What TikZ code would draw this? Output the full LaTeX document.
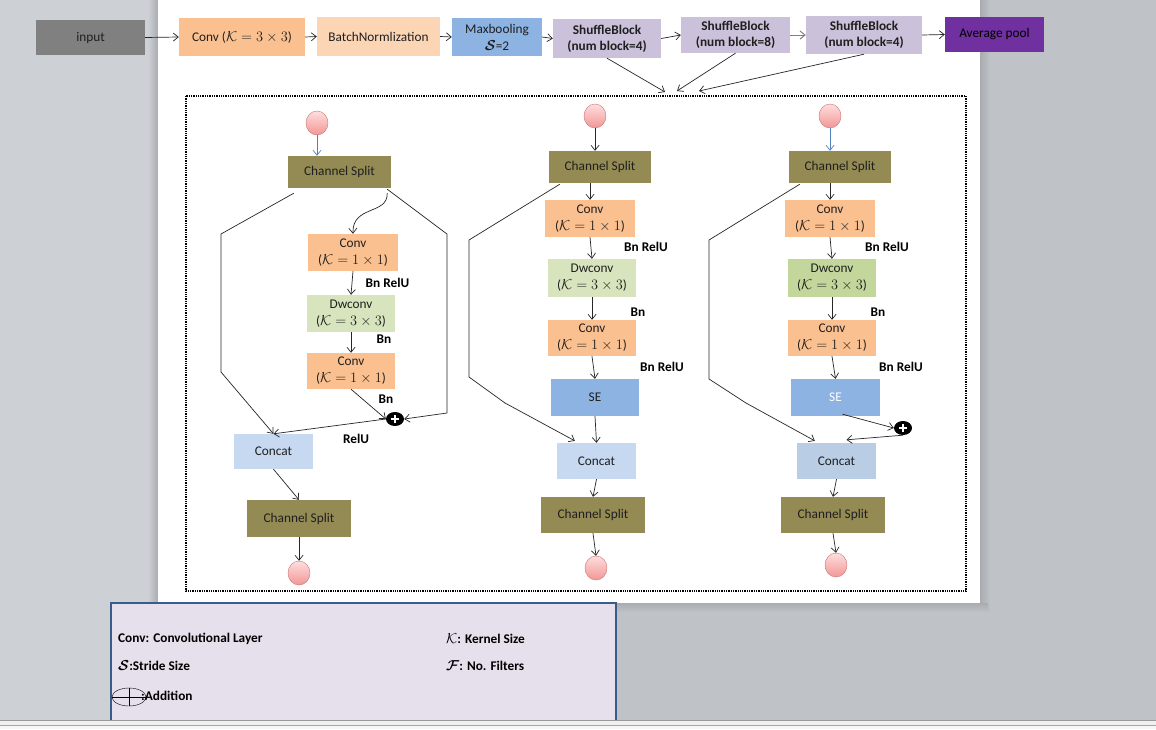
\documentclass[tikz,border=0pt]{standalone}
\usepackage{bm}
\usepackage{fontspec}
\setmainfont{Carlito}
\usetikzlibrary{shapes.geometric, arrows.meta}

\definecolor{pageGray}{RGB}{191,194,199}
\definecolor{sideGray}{RGB}{205,208,212}
\definecolor{edgeGray}{RGB}{168,171,176}
\definecolor{inputGray}{RGB}{128,128,128}
\definecolor{convOrange}{RGB}{250,192,144}
\definecolor{bnPeach}{RGB}{252,213,181}
\definecolor{poolBlue}{RGB}{141,179,226}
\definecolor{shuffleLilac}{RGB}{204,193,218}
\definecolor{avgPurple}{RGB}{112,48,160}
\definecolor{splitOlive}{RGB}{148,138,84}
\definecolor{dwGreen}{RGB}{215,228,189}
\definecolor{dwGreenDark}{RGB}{195,214,155}
\definecolor{concatBlue}{RGB}{198,217,241}
\definecolor{concatBlueDark}{RGB}{185,205,229}
\definecolor{legendLilac}{RGB}{230,224,236}
\definecolor{legendEdge}{RGB}{56,93,138}
\definecolor{arrowBlue}{RGB}{79,129,189}
\definecolor{ballTop}{RGB}{255,222,222}
\definecolor{ballBottom}{RGB}{242,150,150}
\definecolor{ballEdge}{RGB}{205,115,115}

\begin{document}
\begin{tikzpicture}[x=1pt, y=-1pt,
	font=\fontsize{13.3}{17}\selectfont,
	>={Straight Barb[length=5pt,width=8pt]},
	box/.style={rectangle, inner sep=0pt, align=center, text=black!88},
	bold/.style={box, font=\bfseries\fontsize{13.3}{16}\selectfont},
	lab/.style={inner sep=0pt, font=\bfseries\fontsize{13.3}{16}\selectfont},
	ball/.style={ellipse, inner sep=0pt, minimum width=22pt, minimum height=24pt,
		draw=ballEdge, top color=ballTop, bottom color=ballBottom},
	addnode/.style={ellipse, fill=black, inner sep=0pt, minimum width=18pt, minimum height=14pt,
		path picture={\draw[white, line width=1.4pt]
			([xshift=-4pt]path picture bounding box.center) -- ([xshift=4pt]path picture bounding box.center)
			([yshift=-4pt]path picture bounding box.center) -- ([yshift=4pt]path picture bounding box.center);}},
	flow/.style={->, line width=0.7pt, black!85},
	line/.style={line width=0.7pt, black!85}]

	\useasboundingbox (0,0) rectangle (1156,729);

	% window background and page
	\fill[pageGray] (0,0) rectangle (1156,729);
	\fill[sideGray] (0,0) rectangle (150,720);
	\shade[left color=sideGray, right color=edgeGray] (148,0) rectangle (158,720);
	\shade[left color=edgeGray, right color=pageGray] (980,0) rectangle (990,611);
	\shade[top color=edgeGray, bottom color=pageGray] (158,603) rectangle (988,612);
	\fill[white] (158,0) rectangle (980,603);

	% top row
	\node[box, fill=inputGray, minimum width=109pt, minimum height=35pt] (input) at (90.5,37.5) {input};
	\node[box, fill=convOrange, minimum width=126pt, minimum height=38pt] (conv3) at (242,37) {Conv ($\mathcal{K}=3\times3$)};
	\node[box, fill=bnPeach, minimum width=123pt, minimum height=39pt] (bn) at (378.5,36.5) {BatchNormlization};
	\node[box, fill=poolBlue, minimum width=90pt, minimum height=38pt] (maxp) at (497,37) {Maxbooling\\$\bm{\mathcal{S}}$=2};
	\node[bold, fill=shuffleLilac, minimum width=108pt, minimum height=39pt] (sbA) at (607,38.5) {ShuffleBlock\\(num block=4)};
	\node[bold, fill=shuffleLilac, minimum width=109pt, minimum height=36pt] (sbB) at (735.5,35) {ShuffleBlock\\(num block=8)};
	\node[bold, fill=shuffleLilac, minimum width=116pt, minimum height=38pt] (sbC) at (864,35) {ShuffleBlock\\(num block=4)};
	\node[box, fill=avgPurple, text=black, minimum width=99pt, minimum height=35pt] (avg) at (994.5,34.5) {Average pool};

	\draw[flow] (input.east) -- (conv3.west);
	\draw[flow] (conv3.east) -- (bn.west);
	\draw[flow] (bn.east) -- (maxp.west);
	\draw[flow] (maxp.east) -- (sbA.west);
	\draw[flow] (sbA.east) -- (sbB.west);
	\draw[flow, gray, line width=1pt] (sbB.east) -- (sbC.west);
	\draw[flow] (sbC.east) -- (avg.west);

	\coordinate (hubA) at (665,92);
	\coordinate (hubB) at (677,91);
	\coordinate (hubC) at (699,91);
	\draw[flow] (sbA.south) -- (hubA);
	\draw[flow] (sbB.south) -- (hubB);
	\draw[flow] (sbC.south) -- (hubC);

	\draw[densely dotted, line width=1.3pt] (186,96) rectangle (966,591);

	% block 1
	\node[ball] (ballA1) at (317,123) {};
	\node[box, fill=splitOlive, minimum width=103pt, minimum height=32pt] (splitA1) at (339.5,172) {Channel Split};
	\node[box, fill=convOrange, minimum width=90pt, minimum height=37pt] (convA1) at (353,252.5) {Conv\\($\mathcal{K}=1\times1$)};
	\node[box, fill=dwGreen, minimum width=88pt, minimum height=37pt] (dwA) at (351,313.5) {Dwconv\\($\mathcal{K}=3\times3$)};
	\node[box, fill=convOrange, minimum width=88pt, minimum height=36pt] (convA2) at (351,371) {Conv\\($\mathcal{K}=1\times1$)};
	\node[addnode] (addA) at (395,419) {};
	\node[box, fill=concatBlue, minimum width=79pt, minimum height=35pt] (catA) at (273.5,451.5) {Concat};
	\node[box, fill=splitOlive, minimum width=104pt, minimum height=37pt] (splitA2) at (299,518.5) {Channel Split};
	\node[ball] (ballA2) at (299,573) {};

	\node[lab] (lblA1) at (387.5,283) {Bn RelU};
	\node[lab] (lblA2) at (384,339) {Bn};
	\node[lab] (lblA3) at (386,399) {Bn};
	\node[lab] (lblA4) at (356,439) {RelU};

	\draw[flow, arrowBlue] (ballA1.south) -- (ballA1.south |- splitA1.north);
	\draw[line] ([shift={(6,5)}]splitA1.south west) -- (221,234) -- (221,372);
	\draw[flow] (221,372) -- (catA.north);
	\draw[line] ([shift={(-4,1)}]splitA1.south east) -- (447,234) -- (447,413);
	\draw[flow] (447,413) -- (addA.east);
	\draw[flow] ([shift={(-4,5)}]splitA1.south east) .. controls (388,215) and (352,205) .. (convA1.north);
	\draw[flow] (convA1.south) -- (dwA.north);
	\draw[flow] (dwA.south) -- (convA2.north);
	\draw[flow] (convA2.south) -- (addA.west);
	\draw[flow] (addA.west) -- (catA.north);
	\draw[flow] (catA.south) -- (splitA2.north);
	\draw[flow] (splitA2.south) -- (ballA2.north);

	% block 2
	\node[ball] (ballB1) at (595,116) {};
	\node[box, fill=splitOlive, minimum width=102pt, minimum height=32pt] (splitB1) at (600,167) {Channel Split};
	\node[box, fill=convOrange, minimum width=90pt, minimum height=37pt] (convB1) at (590,218.5) {Conv\\($\mathcal{K}=1\times1$)};
	\node[box, fill=dwGreen, minimum width=88pt, minimum height=38pt] (dwB) at (592,278) {Dwconv\\($\mathcal{K}=3\times3$)};
	\node[box, fill=convOrange, minimum width=88pt, minimum height=36pt] (convB2) at (592,338) {Conv\\($\mathcal{K}=1\times1$)};
	\node[box, fill=poolBlue, minimum width=88pt, minimum height=37pt] (seB) at (595,397.5) {SE};
	\node[box, fill=concatBlue, minimum width=79pt, minimum height=36pt] (catB) at (596.5,461) {Concat};
	\node[box, fill=splitOlive, minimum width=104pt, minimum height=36pt] (splitB2) at (593,515) {Channel Split};
	\node[ball] (ballB2) at (596,568) {};

	\node[lab] (lblB1) at (646,247) {Bn RelU};
	\node[lab] (lblB2) at (638,312) {Bn};
	\node[lab] (lblB3) at (662,367) {Bn RelU};

	\draw[flow] (ballB1.south) -- (ballB1.south |- splitB1.north);
	\draw[flow] (convB1.north |- splitB1.south) -- (convB1.north);
	\draw[flow] (convB1.south) -- (dwB.north);
	\draw[flow] (dwB.south) -- (convB2.north);
	\draw[flow] (convB2.south) -- (seB.north);
	\draw[flow] (seB.south) -- (catB.north);
	\draw[line] ([shift={(11,1)}]splitB1.south west) -- (469,240) -- (469,377) -- (505,403);
	\draw[flow] (505,403) -- ([shift={(18,-2)}]catB.north west);
	\draw[flow] (catB.south) -- (splitB2.north);
	\draw[flow] (splitB2.south) -- (ballB2.north);

	% block 3
	\node[ball] (ballC1) at (830,116) {};
	\node[box, fill=splitOlive, minimum width=102pt, minimum height=32pt] (splitC1) at (840,167) {Channel Split};
	\node[box, fill=convOrange, minimum width=90pt, minimum height=37pt] (convC1) at (830,218.5) {Conv\\($\mathcal{K}=1\times1$)};
	\node[box, fill=dwGreenDark, minimum width=88pt, minimum height=38pt] (dwC) at (832,278) {Dwconv\\($\mathcal{K}=3\times3$)};
	\node[box, fill=convOrange, minimum width=88pt, minimum height=36pt] (convC2) at (832,338) {Conv\\($\mathcal{K}=1\times1$)};
	\node[box, fill=poolBlue, text=white, minimum width=89pt, minimum height=37pt] (seC) at (835.5,397.5) {SE};
	\node[addnode] (addC) at (903,428) {};
	\node[box, fill=concatBlueDark, minimum width=79pt, minimum height=36pt] (catC) at (836.5,461) {Concat};
	\node[box, fill=splitOlive, minimum width=104pt, minimum height=36pt] (splitC2) at (833,515) {Channel Split};
	\node[ball] (ballC2) at (836,565) {};

	\node[lab] (lblC1) at (887,247) {Bn RelU};
	\node[lab] (lblC2) at (878,312) {Bn};
	\node[lab] (lblC3) at (901,367) {Bn RelU};

	\draw[flow, arrowBlue] (ballC1.south) -- (ballC1.south |- splitC1.north);
	\draw[flow] (convC1.north |- splitC1.south) -- (convC1.north);
	\draw[flow] (convC1.south) -- (dwC.north);
	\draw[flow] (dwC.south) -- (convC2.north);
	\draw[flow] (convC2.south) -- (seC.north);
	\draw[flow] ([shift={(7,-2)}]seC.south) -- (addC.west);
	\draw[flow] (addC.south) -- ([shift={(10,-3)}]catC.north);
	\draw[line] ([shift={(11,1)}]splitC1.south west) -- (709,240) -- (709,379) -- (746,403);
	\draw[flow] (746,403) -- ([shift={(18,-2)}]catC.north west);
	\draw[flow] (catC.south) -- (splitC2.north);
	\draw[flow] (splitC2.south) -- (ballC2.north);

	% legend
	\draw[legendEdge, fill=legendLilac, line width=1.5pt] (111,603) rectangle (616,724);
	\node[lab, anchor=west] (keyConv) at (118,639) {Conv: Convolutional Layer};
	\node[lab, anchor=west] (keyK) at (446,639) {$\mathcal{K}$: Kernel Size};
	\node[lab, anchor=west] (keyS) at (118,666) {$\bm{\mathcal{S}}$:Stride Size};
	\node[lab, anchor=west] (keyF) at (446,666) {$\bm{\mathcal{F}}$: No. Filters};
	\node[ellipse, draw, inner sep=0pt, minimum width=34pt, minimum height=18pt] (keyAdd) at (129,697) {};
	\draw (keyAdd.west) -- (keyAdd.east) (keyAdd.north) -- (keyAdd.south);
	\node[lab, anchor=west] (keyAddText) at (141,696) {:Addition};

	% bottom bar
	\fill[black!6] (0,720) rectangle (1156,729);
	\draw[black!40] (0,720.5) -- (1156,720.5);
	\draw[black!35] (0,725.5) -- (1156,725.5);
	\fill[black!3] (0,726) rectangle (1156,729);

\end{tikzpicture}
\end{document}
